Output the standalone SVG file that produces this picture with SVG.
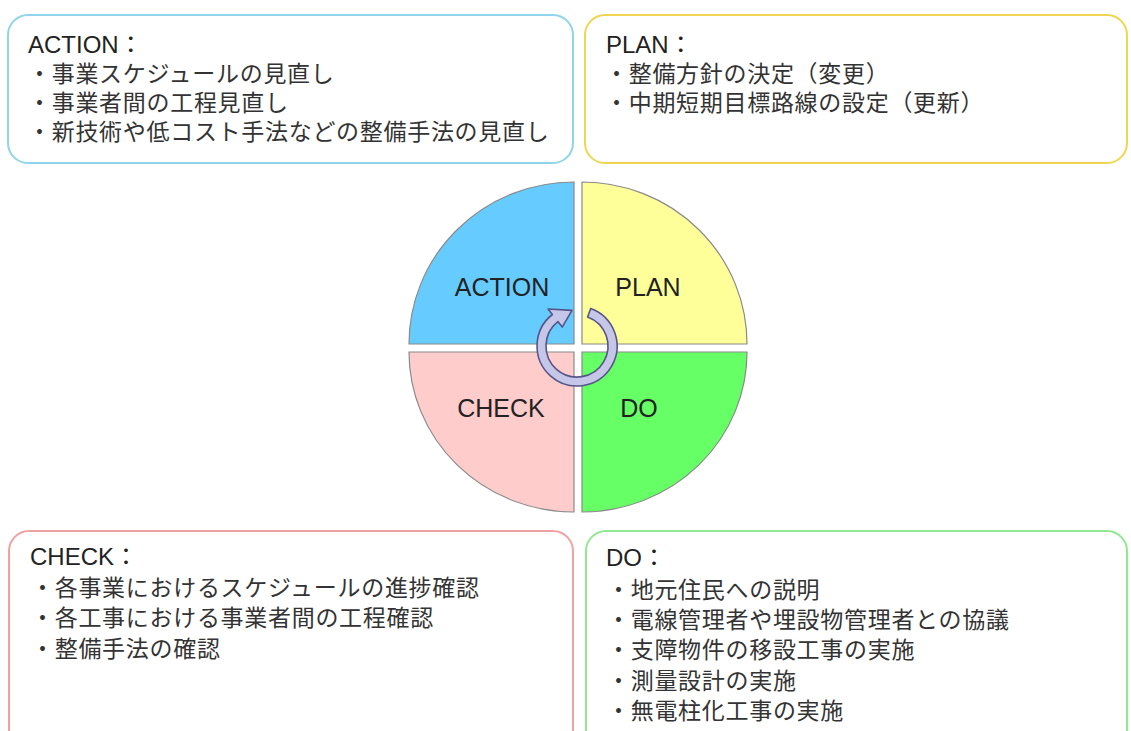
<svg xmlns="http://www.w3.org/2000/svg" width="1131" height="731" viewBox="0 0 1131 731">
<style>
.box{fill:#ffffff;stroke-width:2}
.hd{font-family:"Liberation Sans","Noto Sans CJK JP",sans-serif;font-size:24px;fill:#222}
.jp{font-family:"Noto Sans CJK JP",sans-serif;font-size:23px;letter-spacing:0.7px;fill:#333}
.q{stroke:#8a8a8a;stroke-width:1.2}
.ql{font-family:"Liberation Sans",sans-serif;font-size:25px;fill:#222;text-anchor:middle}
</style>
<rect width="1131" height="731" fill="#ffffff"/>
<g id="action-box">
<rect class="box" x="8" y="15" width="565" height="148" rx="20" stroke="#8fd4ea"/>
<text class="hd" x="28" y="53">ACTION：</text>
<text class="jp" x="28" y="82">・事業スケジュールの見直し</text>
<text class="jp" x="28" y="111">・事業者間の工程見直し</text>
<text class="jp" x="28" y="140">・新技術や低コスト手法などの整備手法の見直し</text>
</g>
<g id="plan-box">
<rect class="box" x="585" y="15" width="542" height="148" rx="20" stroke="#f0d550"/>
<text class="hd" x="606" y="53">PLAN：</text>
<text class="jp" x="605" y="82">・整備方針の決定（変更）</text>
<text class="jp" x="605" y="111">・中期短期目標路線の設定（更新）</text>
</g>
<g id="check-box">
<rect class="box" x="9" y="531" width="564" height="230" rx="20" stroke="#f0a2a2"/>
<text class="hd" x="30" y="565">CHECK：</text>
<text class="jp" x="31" y="596">・各事業におけるスケジュールの進捗確認</text>
<text class="jp" x="31" y="626">・各工事における事業者間の工程確認</text>
<text class="jp" x="31" y="657">・整備手法の確認</text>
</g>
<g id="do-box">
<rect class="box" x="586" y="531" width="541" height="230" rx="20" stroke="#92e892"/>
<text class="hd" x="606" y="566">DO：</text>
<text class="jp" x="607" y="598">・地元住民への説明</text>
<text class="jp" x="607" y="628">・電線管理者や埋設物管理者との協議</text>
<text class="jp" x="607" y="658">・支障物件の移設工事の実施</text>
<text class="jp" x="607" y="689">・測量設計の実施</text>
<text class="jp" x="607" y="719">・無電柱化工事の実施</text>
</g>
<g id="action">
<path class="q" d="M574,344 L409,344 A165,162 0 0 1 574,182 Z" fill="#66ccff"/>
<text class="ql" x="502" y="296">ACTION</text>
</g>
<g id="plan">
<path class="q" d="M582,344 L582,182 A165,162 0 0 1 747,344 Z" fill="#ffff99"/>
<text class="ql" x="648" y="296">PLAN</text>
</g>
<g id="check">
<path class="q" d="M574,352 L574,512 A165,160 0 0 1 409,352 Z" fill="#ffcccc"/>
<text class="ql" x="501" y="417">CHECK</text>
</g>
<g id="do">
<path class="q" d="M582,352 L747,352 A165,160 0 0 1 582,512 Z" fill="#66ff66"/>
<text class="ql" x="639" y="417">DO</text>
</g>
<g id="connectors">
<path d="M590.7,308.4 A40,40 0 1 1 552.4,314.5 L548,309 L572,310.4 L562.2,327.1 L557.9,321.6 A31,31 0 1 0 587.6,316.9 Z" fill="#c6c6e8" stroke="#55558a" stroke-width="1.6" stroke-linejoin="round"/>
</g>
</svg>
